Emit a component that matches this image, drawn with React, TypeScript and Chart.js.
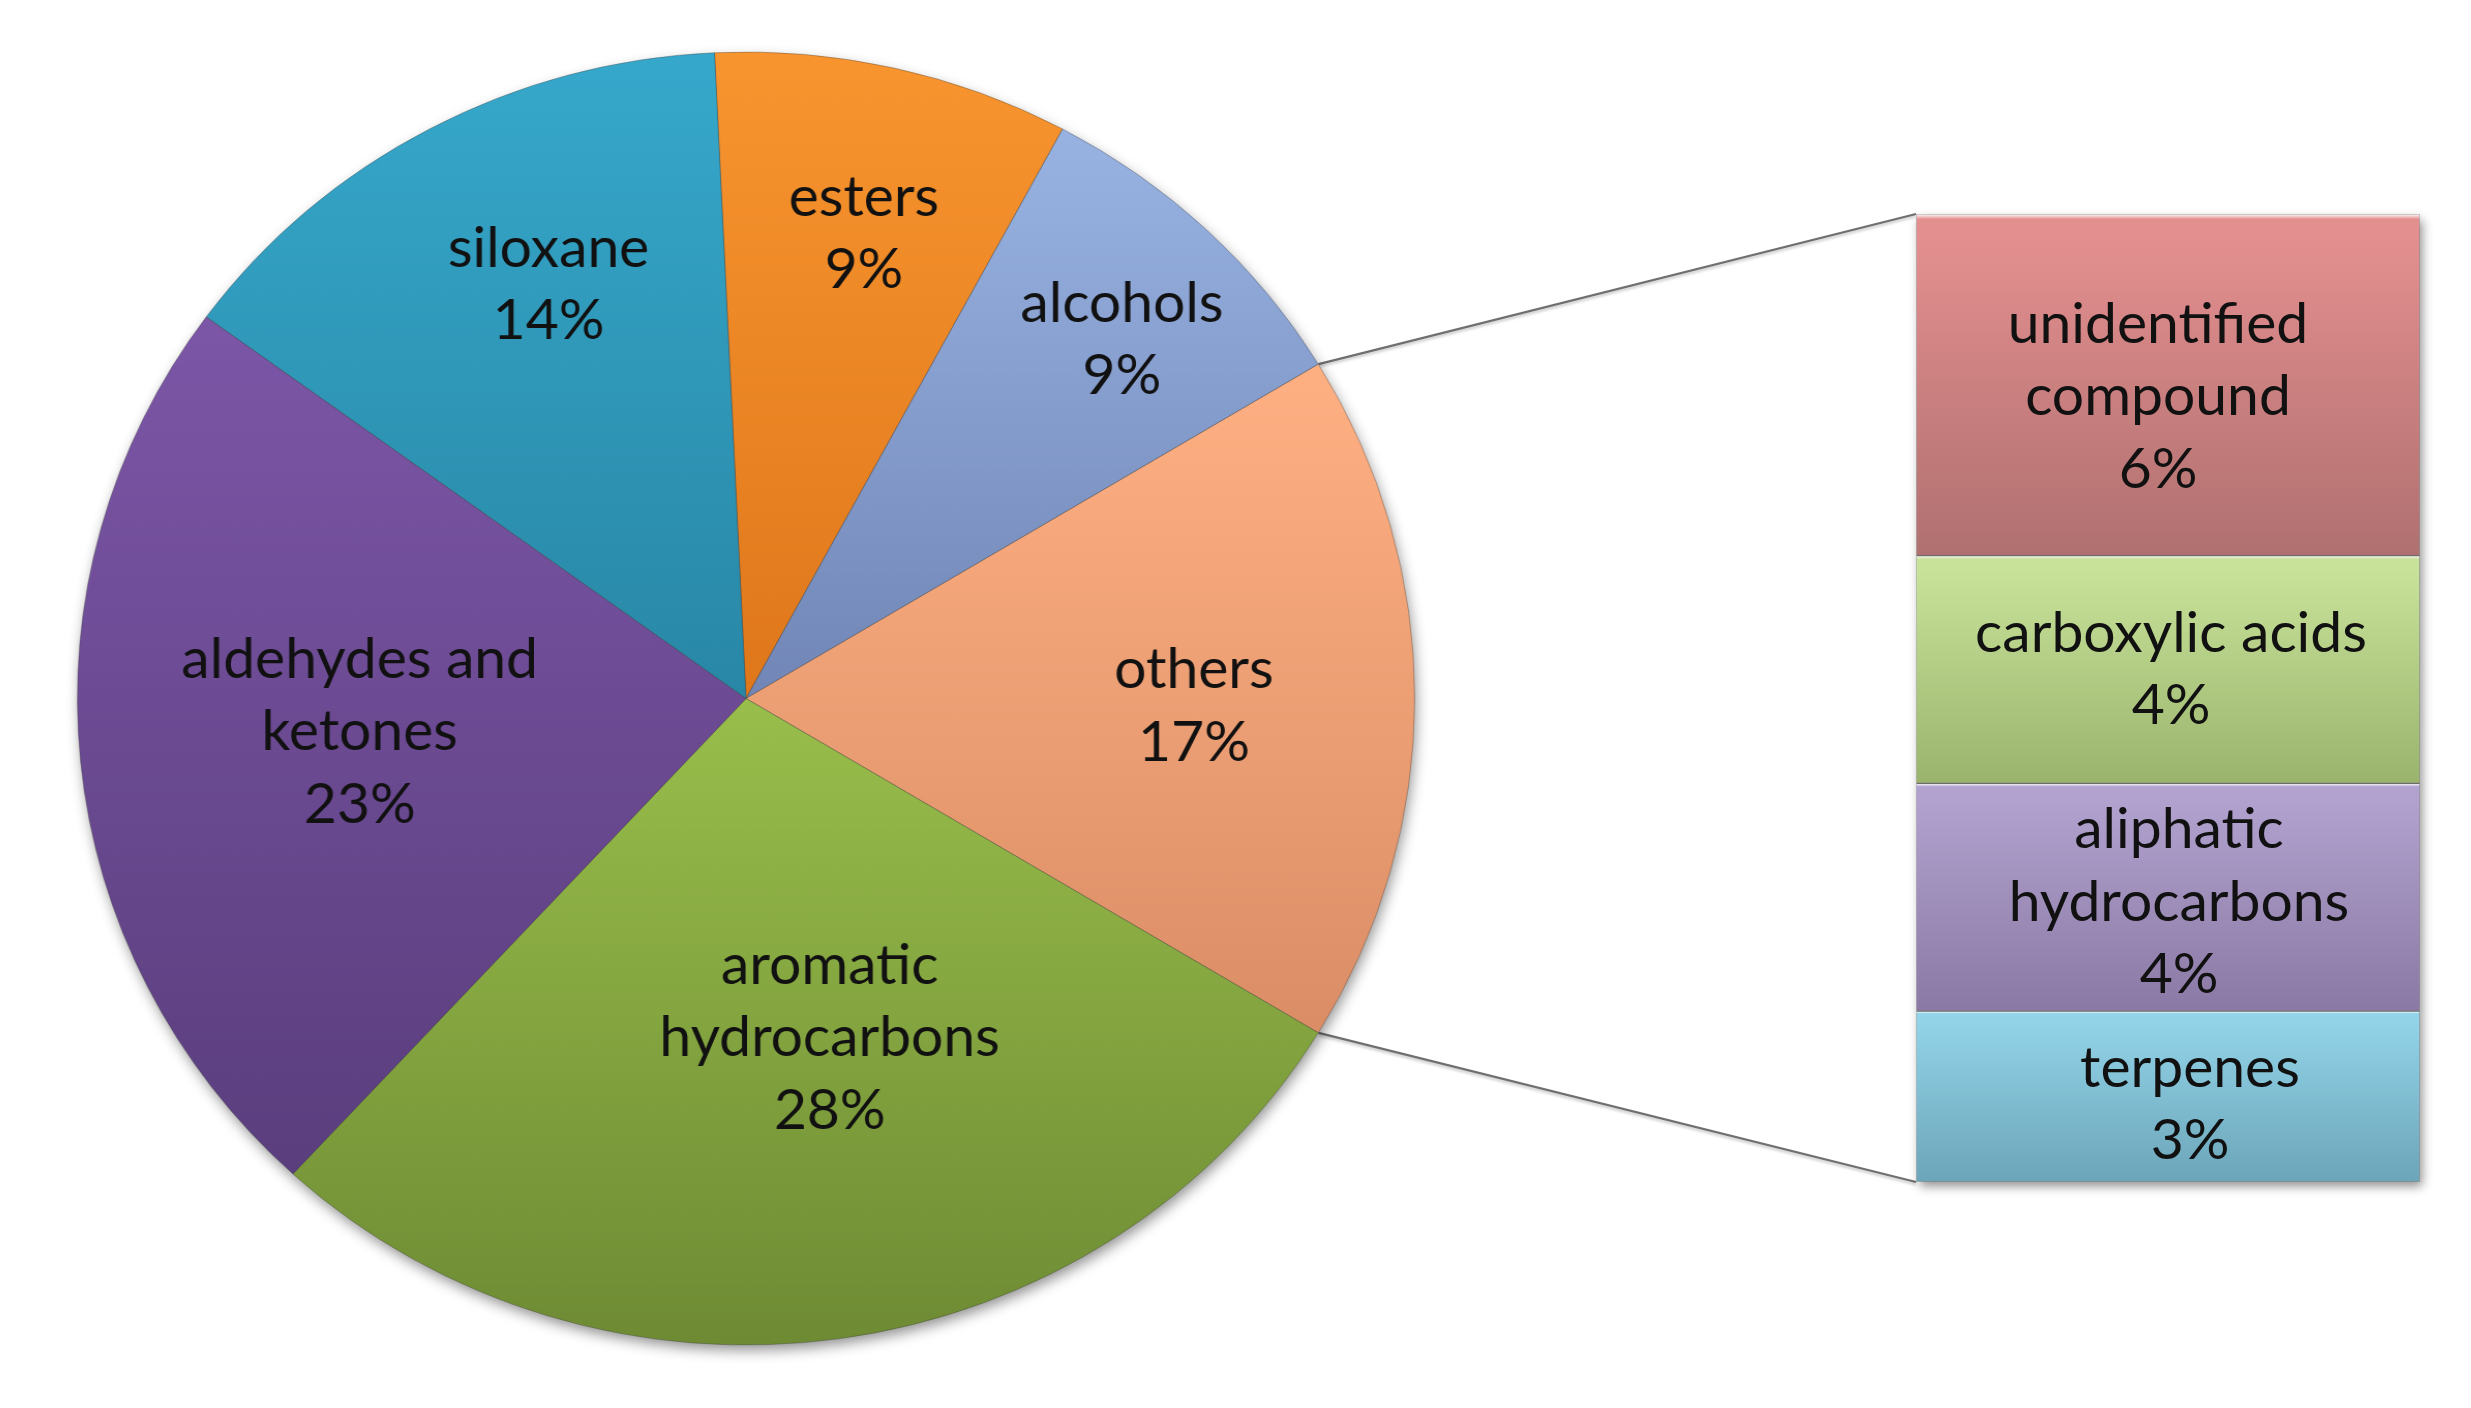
import React, { useEffect, useRef } from "react";
import { Chart, registerables } from "chart.js";

Chart.register(...registerables);

// ---------- data ----------
const pieCategories = ["esters", "alcohols", "others", "aromatic hydrocarbons", "aldehydes and ketones", "siloxane"];
const pieValues = [8.6, 8.5, 17.3, 28.2, 23.2, 14.2];
const pieLabelLines: string[][] = [["esters"], ["alcohols"], ["others"], ["aromatic", "hydrocarbons"], ["aldehydes and", "ketones"], ["siloxane"]];

const barCategories = ["unidentified compound", "carboxylic acids", "aliphatic hydrocarbons", "terpenes"];
const barValues = [6, 4, 4, 3];
const barLabelLines: string[][] = [["unidentified", "compound"], ["carboxylic acids"], ["aliphatic", "hydrocarbons"], ["terpenes"]];

// ---------- styles ----------
const pieTopColors = ["#F8952F", "#98B3E2", "#FFB083", "#99BE4B", "#7C56A7", "#36A8CB"];
const pieBottomColors = ["#DF771B", "#7186B6", "#DB8E66", "#6E8B34", "#5A3E7D", "#2987A6"];
const barTopColors = ["#E48F8F", "#C8E29A", "#B2A2CF", "#92D3E8"];
const barBottomColors = ["#B07070", "#9BB46D", "#8A79A4", "#6CA5B9"];

const FONT = '57px Lato, "Open Sans", sans-serif';
const LINE_H = 72.5;
const TEXT_COLOR = "#111111";

const SX = 669 / 646.5; // horizontal stretch of the pie (ellipse)
const PIE_R = 646.5;
const PIE_W = 1340;
const PIE_H = 1397;
const PIE_LEFT = 746 - (PIE_W / 2) * SX;
const PIE_TOP = 0;

const BAR_LEFT = 1900;
const BAR_TOP = 200;
const BAR_W = 540;
const BAR_H = 1000;

const pieLabelRadius = [0.74, 0.79, 0.67, 0.54, 0.58, 0.705];
const pieLabelNudgeDeg = [1, 1.8, 1, -5.3, 0.5, 3.5];
const barLabelNudgeX = [-10, 3, 11, 22];
const barLabelNudgeY = [12, 0, 5, 8];

const sum = (a: number[]) => a.reduce((s, v) => s + v, 0);
const pieTotal = sum(pieValues);
// "others" slice centred on the right (3 o'clock), as in a pie-of-bar chart
const pieRotation = 90 - ((pieValues[0] + pieValues[1] + pieValues[2] / 2) / pieTotal) * 360;
const barTotal = sum(barValues);

const fin = (...v: number[]) => v.every((n) => Number.isFinite(n));

function arcYBounds(cy: number, r: number, s: number, e: number) {
  const ys = [cy, cy + r * Math.sin(s), cy + r * Math.sin(e)];
  for (let k = -2; k <= 2; k++) {
    const down = Math.PI / 2 + k * 2 * Math.PI;
    const up = -Math.PI / 2 + k * 2 * Math.PI;
    if (down > s && down < e) ys.push(cy + r);
    if (up > s && up < e) ys.push(cy - r);
  }
  return [Math.min(...ys), Math.max(...ys)];
}

const pieBg = (ctx: any) => {
  const i = ctx.dataIndex;
  const chart = ctx.chart;
  const area = chart.chartArea;
  if (i === undefined || i === null || !pieTopColors[i]) return pieTopColors[0];
  if (!area) return pieBottomColors[i];
  const cy = (area.top + area.bottom) / 2;
  const before = sum(pieValues.slice(0, i));
  const base = (pieRotation * Math.PI) / 180 - Math.PI / 2;
  const s = base + (before / pieTotal) * 2 * Math.PI;
  const e = s + (pieValues[i] / pieTotal) * 2 * Math.PI;
  const [y0, y1] = arcYBounds(cy, PIE_R, s, e);
  if (!fin(y0, y1) || y1 - y0 < 1) return pieBottomColors[i];
  const g = chart.ctx.createLinearGradient(0, y0, 0, y1);
  g.addColorStop(0, pieTopColors[i]);
  g.addColorStop(1, pieBottomColors[i]);
  return g;
};

const barBg = (ctx: any) => {
  const di = ctx.datasetIndex;
  const chart = ctx.chart;
  const ys = chart.scales && chart.scales.y;
  if (di === undefined || di === null || !barTopColors[di]) return barTopColors[0];
  if (!ys) return barTopColors[di];
  const start = sum(barValues.slice(0, di));
  const end = start + barValues[di];
  const a = ys.getPixelForValue(start);
  const b = ys.getPixelForValue(end);
  if (!fin(a, b) || Math.abs(b - a) < 1) return barTopColors[di];
  const g = chart.ctx.createLinearGradient(0, Math.min(a, b), 0, Math.max(a, b));
  g.addColorStop(0, "#FFFFFF");
  g.addColorStop(0.015, barTopColors[di]);
  g.addColorStop(0.06, barTopColors[di]);
  g.addColorStop(1, barBottomColors[di]);
  return g;
};

function drawTextBlock(ctx: CanvasRenderingContext2D, lines: string[], x: number, y: number, sx: number) {
  ctx.save();
  ctx.font = FONT;
  ctx.fillStyle = TEXT_COLOR;
  ctx.textAlign = "center";
  ctx.textBaseline = "middle";
  const n = lines.length;
  lines.forEach((line, k) => {
    const ly = y + (k - (n - 1) / 2) * LINE_H;
    ctx.save();
    ctx.translate(x, ly);
    ctx.scale(1 / sx, 1);
    ctx.fillText(line, 0, 0);
    ctx.restore();
  });
  ctx.restore();
}

export default function App() {
  const pieRef = useRef<HTMLCanvasElement>(null);
  const barRef = useRef<HTMLCanvasElement>(null);
  const lineRef = useRef<HTMLCanvasElement>(null);

  useEffect(() => {
    const pieShadow = {
      id: "pieShadow",
      beforeDatasetsDraw(chart: any) {
        const { ctx, chartArea } = chart;
        const cx = (chartArea.left + chartArea.right) / 2;
        const cy = (chartArea.top + chartArea.bottom) / 2;
        ctx.save();
        ctx.shadowColor = "rgba(0,0,0,0.45)";
        ctx.shadowBlur = 14;
        ctx.shadowOffsetX = 2;
        ctx.shadowOffsetY = 6;
        ctx.beginPath();
        ctx.arc(cx, cy, PIE_R - 1, 0, Math.PI * 2);
        ctx.fillStyle = "#777";
        ctx.fill();
        ctx.restore();
      },
    };
    const pieLabels = {
      id: "pieLabels",
      afterDatasetsDraw(chart: any) {
        const ctx = chart.ctx;
        const meta = chart.getDatasetMeta(0);
        meta.data.forEach((arc: any, i: number) => {
          const p = arc.getProps(["x", "y", "startAngle", "endAngle", "outerRadius"], true);
          const mid = (p.startAngle + p.endAngle) / 2 + (pieLabelNudgeDeg[i] * Math.PI) / 180;
          const r = p.outerRadius * pieLabelRadius[i];
          const x = p.x + r * Math.cos(mid);
          const y = p.y + r * Math.sin(mid);
          drawTextBlock(ctx, [...pieLabelLines[i], Math.round((pieValues[i] / pieTotal) * 100) + "%"], x, y, SX);
        });
      },
    };

    const pie = new Chart(pieRef.current as HTMLCanvasElement, {
      type: "pie",
      data: {
        labels: pieCategories,
        datasets: [
          {
            data: pieValues,
            backgroundColor: pieBg as any,
            borderColor: "rgba(60,60,60,0.35)",
            borderWidth: 1,
          },
        ],
      },
      options: {
        responsive: false,
        animation: false,
        events: [],
        radius: PIE_R,
        rotation: pieRotation,
        layout: { padding: 0 },
        plugins: { legend: { display: false }, tooltip: { enabled: false } },
      } as any,
      plugins: [pieShadow, pieLabels],
    });

    const barShadow = {
      id: "barShadow",
      beforeDatasetsDraw(chart: any) {
        const { ctx, chartArea } = chart;
        ctx.save();
        ctx.shadowColor = "rgba(0,0,0,0.45)";
        ctx.shadowBlur = 10;
        ctx.shadowOffsetX = 3;
        ctx.shadowOffsetY = 5;
        ctx.fillStyle = "#888";
        ctx.fillRect(chartArea.left + 1, chartArea.top + 1, chartArea.right - chartArea.left - 2, chartArea.bottom - chartArea.top - 2);
        ctx.restore();
      },
    };
    const barLabels = {
      id: "barLabels",
      afterDatasetsDraw(chart: any) {
        const ctx = chart.ctx;
        barValues.forEach((v, di) => {
          const el: any = chart.getDatasetMeta(di).data[0];
          const p = el.getProps(["x", "y", "base"], true);
          drawTextBlock(ctx, [...barLabelLines[di], v + "%"], p.x + barLabelNudgeX[di], (p.y + p.base) / 2 + barLabelNudgeY[di], 1);
        });
      },
    };

    const bar = new Chart(barRef.current as HTMLCanvasElement, {
      type: "bar",
      data: {
        labels: ["others"],
        datasets: barCategories.map((c, i) => ({
          label: c,
          data: [barValues[i]],
          backgroundColor: barBg as any,
          borderColor: "rgba(80,80,80,0.35)",
          borderWidth: 1,
          borderSkipped: false,
          barPercentage: 1,
          categoryPercentage: 1,
          stack: "others",
        })),
      },
      options: {
        responsive: false,
        animation: false,
        events: [],
        layout: { padding: { left: 16, right: 20, top: 14, bottom: 18 } },
        plugins: { legend: { display: false }, tooltip: { enabled: false } },
        scales: {
          x: { display: false, stacked: true },
          y: { display: false, stacked: true, min: 0, max: barTotal, reverse: true },
        },
      } as any,
      plugins: [barShadow, barLabels],
    });

    // connector lines between the "others" slice and the stacked bar
    const lc = lineRef.current as HTMLCanvasElement;
    const lctx = lc.getContext("2d") as CanvasRenderingContext2D;
    lctx.clearRect(0, 0, lc.width, lc.height);
    const arc: any = pie.getDatasetMeta(0).data[2];
    const ap = arc.getProps(["x", "y", "startAngle", "endAngle", "outerRadius"], true);
    const pTop = {
      x: PIE_LEFT + (ap.x + ap.outerRadius * Math.cos(ap.startAngle)) * SX,
      y: PIE_TOP + ap.y + ap.outerRadius * Math.sin(ap.startAngle),
    };
    const pBot = {
      x: PIE_LEFT + (ap.x + ap.outerRadius * Math.cos(ap.endAngle)) * SX,
      y: PIE_TOP + ap.y + ap.outerRadius * Math.sin(ap.endAngle),
    };
    const first: any = bar.getDatasetMeta(0).data[0].getProps(["x", "y", "base", "width"], true);
    const last: any = bar.getDatasetMeta(barValues.length - 1).data[0].getProps(["x", "y", "base", "width"], true);
    const bTop = { x: BAR_LEFT + first.x - first.width / 2, y: BAR_TOP + Math.min(first.y, first.base) };
    const bBot = { x: BAR_LEFT + last.x - last.width / 2, y: BAR_TOP + Math.max(last.y, last.base) };
    lctx.save();
    lctx.strokeStyle = "#6f6f6f";
    lctx.lineWidth = 2.2;
    lctx.shadowColor = "rgba(0,0,0,0.25)";
    lctx.shadowBlur = 3;
    lctx.shadowOffsetY = 2;
    lctx.beginPath();
    lctx.moveTo(pTop.x, pTop.y);
    lctx.lineTo(bTop.x, bTop.y);
    lctx.moveTo(pBot.x, pBot.y);
    lctx.lineTo(bBot.x, bBot.y);
    lctx.stroke();
    lctx.restore();

    return () => {
      pie.destroy();
      bar.destroy();
    };
  }, []);

  return (
    <div style={{ position: "absolute", left: 0, top: 0, width: 2471, height: 1408, background: "#ffffff", overflow: "hidden" }}>
      <canvas ref={lineRef} width={2471} height={1408} style={{ position: "absolute", left: 0, top: 0, width: 2471, height: 1408 }} />
      <canvas
        ref={pieRef}
        width={PIE_W}
        height={PIE_H}
        style={{ position: "absolute", left: PIE_LEFT, top: PIE_TOP, width: PIE_W * SX, height: PIE_H }}
      />
      <canvas
        ref={barRef}
        width={BAR_W}
        height={BAR_H}
        style={{ position: "absolute", left: BAR_LEFT, top: BAR_TOP, width: BAR_W, height: BAR_H }}
      />
    </div>
  );
}
